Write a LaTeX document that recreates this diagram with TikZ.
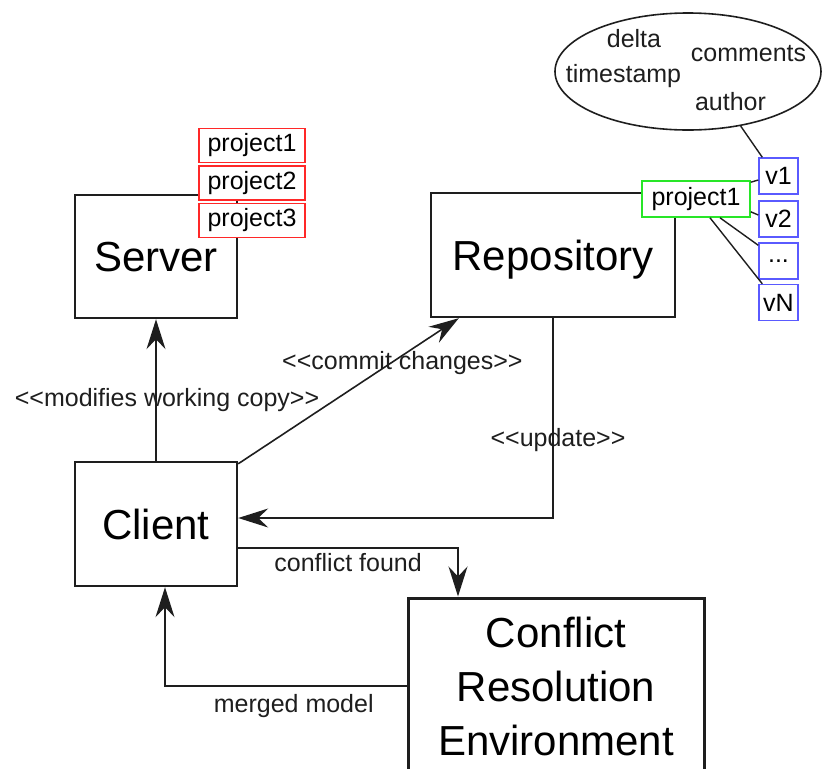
\documentclass[tikz,border=0pt]{standalone}
\usepackage{fontspec}
\setmainfont{Liberation Sans}
\usetikzlibrary{arrows.meta,shapes.geometric}

\definecolor{boxred}{RGB}{255,40,40}
\definecolor{boxgreen}{RGB}{40,230,40}
\definecolor{boxblue}{RGB}{90,90,255}
\definecolor{inkgray}{RGB}{30,30,30}

\tikzset{every picture/.style={line width=1.6pt}}
\tikzset{
  bigbox/.style={draw=inkgray, line width=2.4pt, fill=white, inner sep=0pt, font=\fontsize{42}{54}\selectfont},
  titlebox/.style={bigbox, text height=30pt, text depth=0pt},
  projbox/.style={draw=boxred, line width=1.6pt, fill=white, minimum width=106pt, minimum height=34pt, inner sep=0pt, font=\fontsize{25}{30}\selectfont},
  verbox/.style={draw=boxblue, line width=1.4pt, fill=white, minimum width=39pt, minimum height=36pt, inner sep=0pt, font=\fontsize{25}{30}\selectfont},
  lbl/.style={font=\fontsize{25}{30}\selectfont, inner sep=0pt, text=inkgray},
  conn/.style={draw=inkgray, line width=1.6pt, -{Stealth[length=30pt,width=19pt,inset=10pt]}},
  twig/.style={draw=inkgray, line width=1.4pt}
}

\begin{document}
\begin{tikzpicture}[x=1pt,y=-1pt]
\useasboundingbox (0,0) rectangle (823,769);

%Shape: main boxes
\node [titlebox, minimum width=162pt, minimum height=123pt] (server) at (156,256.5) {Server};
\node [titlebox, minimum width=162pt, minimum height=124pt] (client) at (156,524) {Client};
\node [titlebox, minimum width=244pt, minimum height=124pt] (repo) at (553,255) {Repository};
\node [bigbox, line width=3pt, minimum width=296pt, minimum height=176pt, align=center] (cre) at (556,686) {Conflict\\Resolution\\Environment};

%Shape: working copies on the server
\node [projbox] (sp1) at (252,145.5) {project1};
\node [projbox] (sp2) at (252,183) {project2};
\node [projbox] (sp3) at (252,220.5) {project3};

%Shape: project in the repository
\node [projbox, draw=boxgreen, minimum width=108pt, minimum height=36pt] (rp1) at (696,199) {project1};

%Shape: versions
\node [verbox] (v1) at (778.5,176) {v1};
\node [verbox] (v2) at (778.5,219) {v2};
\node [verbox] (v3) at (778.5,261) {...};
\node [verbox] (vN) at (778.5,302.5) {vN};

%Shape: version metadata
\node [ellipse, draw=inkgray, line width=1.6pt, minimum width=266pt, minimum height=117pt, inner sep=0pt] (meta) at (688,71.5) {};
% Text Node
\node [lbl, anchor=base] (mdelta) at (634,47) {delta};
\node [lbl, anchor=base] (mcomments) at (748.5,61) {comments};
\node [lbl, anchor=base] (mtime) at (623.5,82) {timestamp};
\node [lbl, anchor=base] (mauthor) at (730.5,110) {author};

%Straight Lines: version tree
\draw [twig] (meta.-46) -- ([xshift=4pt]v1.north west);
\draw [twig] ([yshift=-2pt]rp1.north east) -- ([yshift=-4pt]v1.west);
\draw [twig] ([yshift=6pt]rp1.south east) -- ([yshift=4pt]v2.west);
\draw [twig] ([xshift=24pt]rp1.south) -- ([yshift=-3pt]v3.north west);
\draw [twig] ([xshift=14pt]rp1.south) -- ([xshift=4pt]vN.north west);

%Straight Lines: connectors
\draw [conn] (client.north) -- node [lbl, pos=0.43, xshift=11pt] {{<}{<}modifies working copy{>}{>}} (server.south);
\draw [conn] ([yshift=-3pt]client.north east) -- node [lbl, pos=0.69, xshift=12pt] {{<}{<}commit changes{>}{>}} ([xshift=29pt]repo.south west);
\draw [conn] (repo.south) |- node [lbl, pos=0.306, xshift=5pt] {{<}{<}update{>}{>}} ([yshift=6pt]client.east);
\draw [conn] ([yshift=-24pt]client.east) -| node [lbl, pos=0.25, yshift=-15pt] {conflict found} ([xshift=-98pt]cre.north);
\draw [conn] (cre.west) -| node [lbl, pos=0.25, xshift=8pt, yshift=-20pt] {merged model} ([xshift=9pt]client.south);

\end{tikzpicture}
\end{document}
